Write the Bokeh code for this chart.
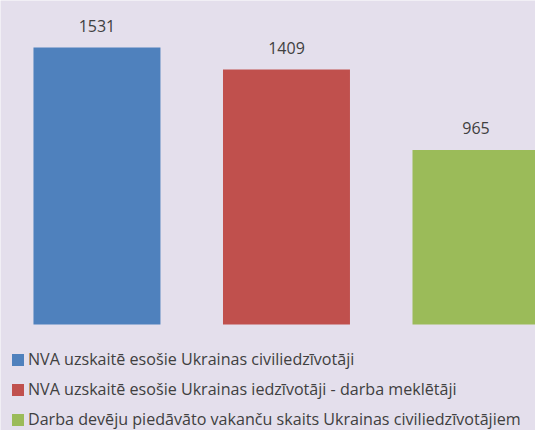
from bokeh.plotting import figure
from bokeh.models import ColumnDataSource, Legend, LegendItem
from bokeh.core.properties import value
from bokeh.embed import file_html
from bokeh.resources import INLINE

categories = ["NVA uzskaitē esošie Ukrainas civiliedzīvotāji",
              "NVA uzskaitē esošie Ukrainas iedzīvotāji - darba meklētāji",
              "Darba devēju piedāvāto vakanču skaits Ukrainas civiliedzīvotājiem"]
values = [1531, 1409, 965]
colors = ["#4F81BD", "#C0504D", "#9BBB59"]
labels = [str(v) for v in values]

BG = "#E4DFEC"
W, H = 535, 430

xpos = list(range(len(values)))
src = ColumnDataSource(dict(x=xpos, top=values, label=labels))

p = figure(width=W, height=H, output_backend="svg", toolbar_location=None,
           x_range=(-0.509, 2.314), y_range=(-586, 1791),
           min_border=0, min_border_left=0, min_border_right=0,
           min_border_top=0, min_border_bottom=0)
p.background_fill_color = BG
p.border_fill_color = BG
p.outline_line_color = None
p.xaxis.visible = False
p.yaxis.visible = False
p.xgrid.visible = False
p.ygrid.visible = False

renderers = []
for i in range(len(values)):
    s = ColumnDataSource(dict(x=[xpos[i]], top=[values[i]]))
    r = p.vbar(x="x", top="top", bottom=0, width=0.67, source=s,
               fill_color=colors[i], line_color=None)
    renderers.append(r)

p.text(x="x", y="top", text="label", source=src, text_align="center",
       text_baseline="bottom", y_offset=-16, text_font=value("Open Sans"),
       text_font_size="16px", text_color="#404040")

legend = Legend(items=[LegendItem(label=categories[i], renderers=[renderers[i]])
                       for i in range(len(values))],
                location=(10, 0), orientation="vertical",
                glyph_width=15, glyph_height=15, label_height=22,
                label_standoff=3, spacing=8, padding=0, margin=0,
                border_line_color=None, background_fill_alpha=0,
                label_text_font="Open Sans", label_text_font_size="16.1px",
                label_text_color="#404040")
p.add_layout(legend, "center")

open("out.html", "w").write(file_html(p, INLINE))
